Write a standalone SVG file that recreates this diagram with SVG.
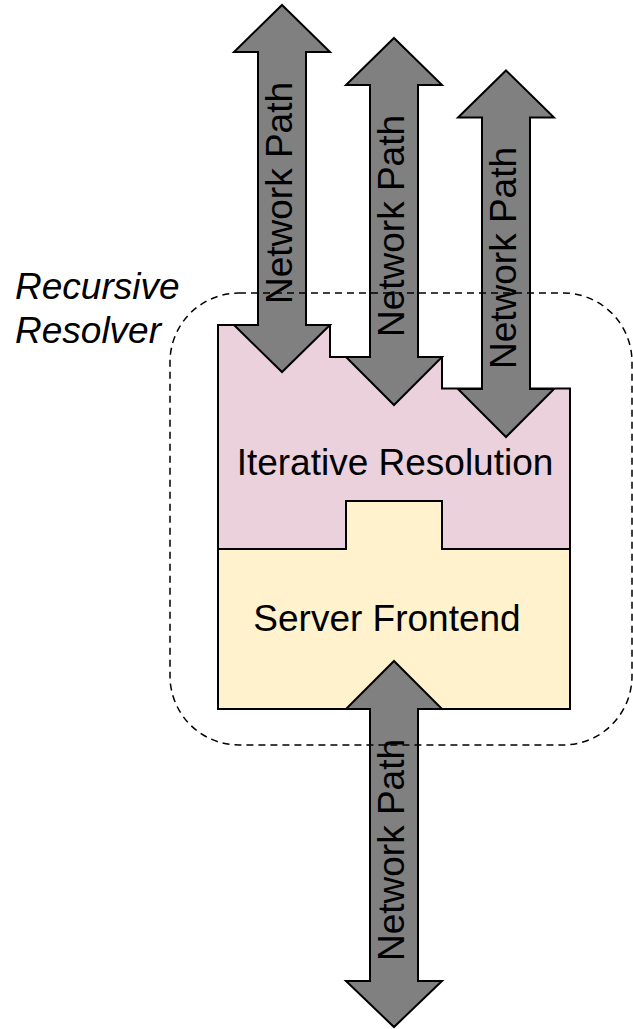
<svg xmlns="http://www.w3.org/2000/svg" width="633" height="1029" viewBox="0 0 633 1029">
<style>
.box{stroke:#000;stroke-width:2;stroke-linejoin:miter}
.arrow{fill:#808080;stroke:#000;stroke-width:2;stroke-linejoin:miter}
.lbl{font-family:"Liberation Sans",Arial,sans-serif;font-size:37px;fill:#000}
.vl{font-family:"Liberation Sans",Arial,sans-serif;font-size:37px;fill:#000;text-anchor:middle}
</style>
<rect width="633" height="1029" fill="#fff"/>
<g id="iterative-resolution">
<path class="box" fill="#EAD1DC" d="M218,325 H330 V357 H442 V388.5 H570 V549 H442 V501 H346 V549 H218 Z"/>
<text class="lbl" x="395" y="475" text-anchor="middle">Iterative Resolution</text>
</g>
<g id="server-frontend">
<path class="box" fill="#FFF2CC" d="M218,549 H346 V501 H442 V549 H570 V709 H218 Z"/>
<text class="lbl" x="387" y="631" text-anchor="middle">Server Frontend</text>
</g>
<g id="connectors">
<g id="path1">
<polygon class="arrow" points="282,5 330,52 306,52 306,325 330,325 282,372 234,325 258,325 258,52 234,52"/>
<text class="vl" transform="translate(292,193) rotate(-90)">Network Path</text>
</g>
<g id="path2">
<polygon class="arrow" points="394,38 442,85 418,85 418,357 442,357 394,405 346,357 370,357 370,85 346,85"/>
<text class="vl" transform="translate(404,226) rotate(-90)">Network Path</text>
</g>
<g id="path3">
<polygon class="arrow" points="506,70.5 554,117.5 530,117.5 530,389 554,389 506,437 458,389 482,389 482,117.5 458,117.5"/>
<text class="vl" transform="translate(516,258) rotate(-90)">Network Path</text>
</g>
<g id="path4">
<polygon class="arrow" points="394,661 442,709 418,709 418,981 442,981 394,1027 346,981 370,981 370,709 346,709"/>
<text class="vl" transform="translate(404,850) rotate(-90)">Network Path</text>
</g>
</g>
<g id="recursive-resolver">
<rect x="170" y="293" width="462" height="452" rx="69" ry="69" fill="none" stroke="#000" stroke-width="1.5" stroke-dasharray="7 5"/>
<text class="lbl" font-style="italic" x="15" y="299">Recursive</text>
<text class="lbl" font-style="italic" x="15" y="343">Resolver</text>
</g>
</svg>
